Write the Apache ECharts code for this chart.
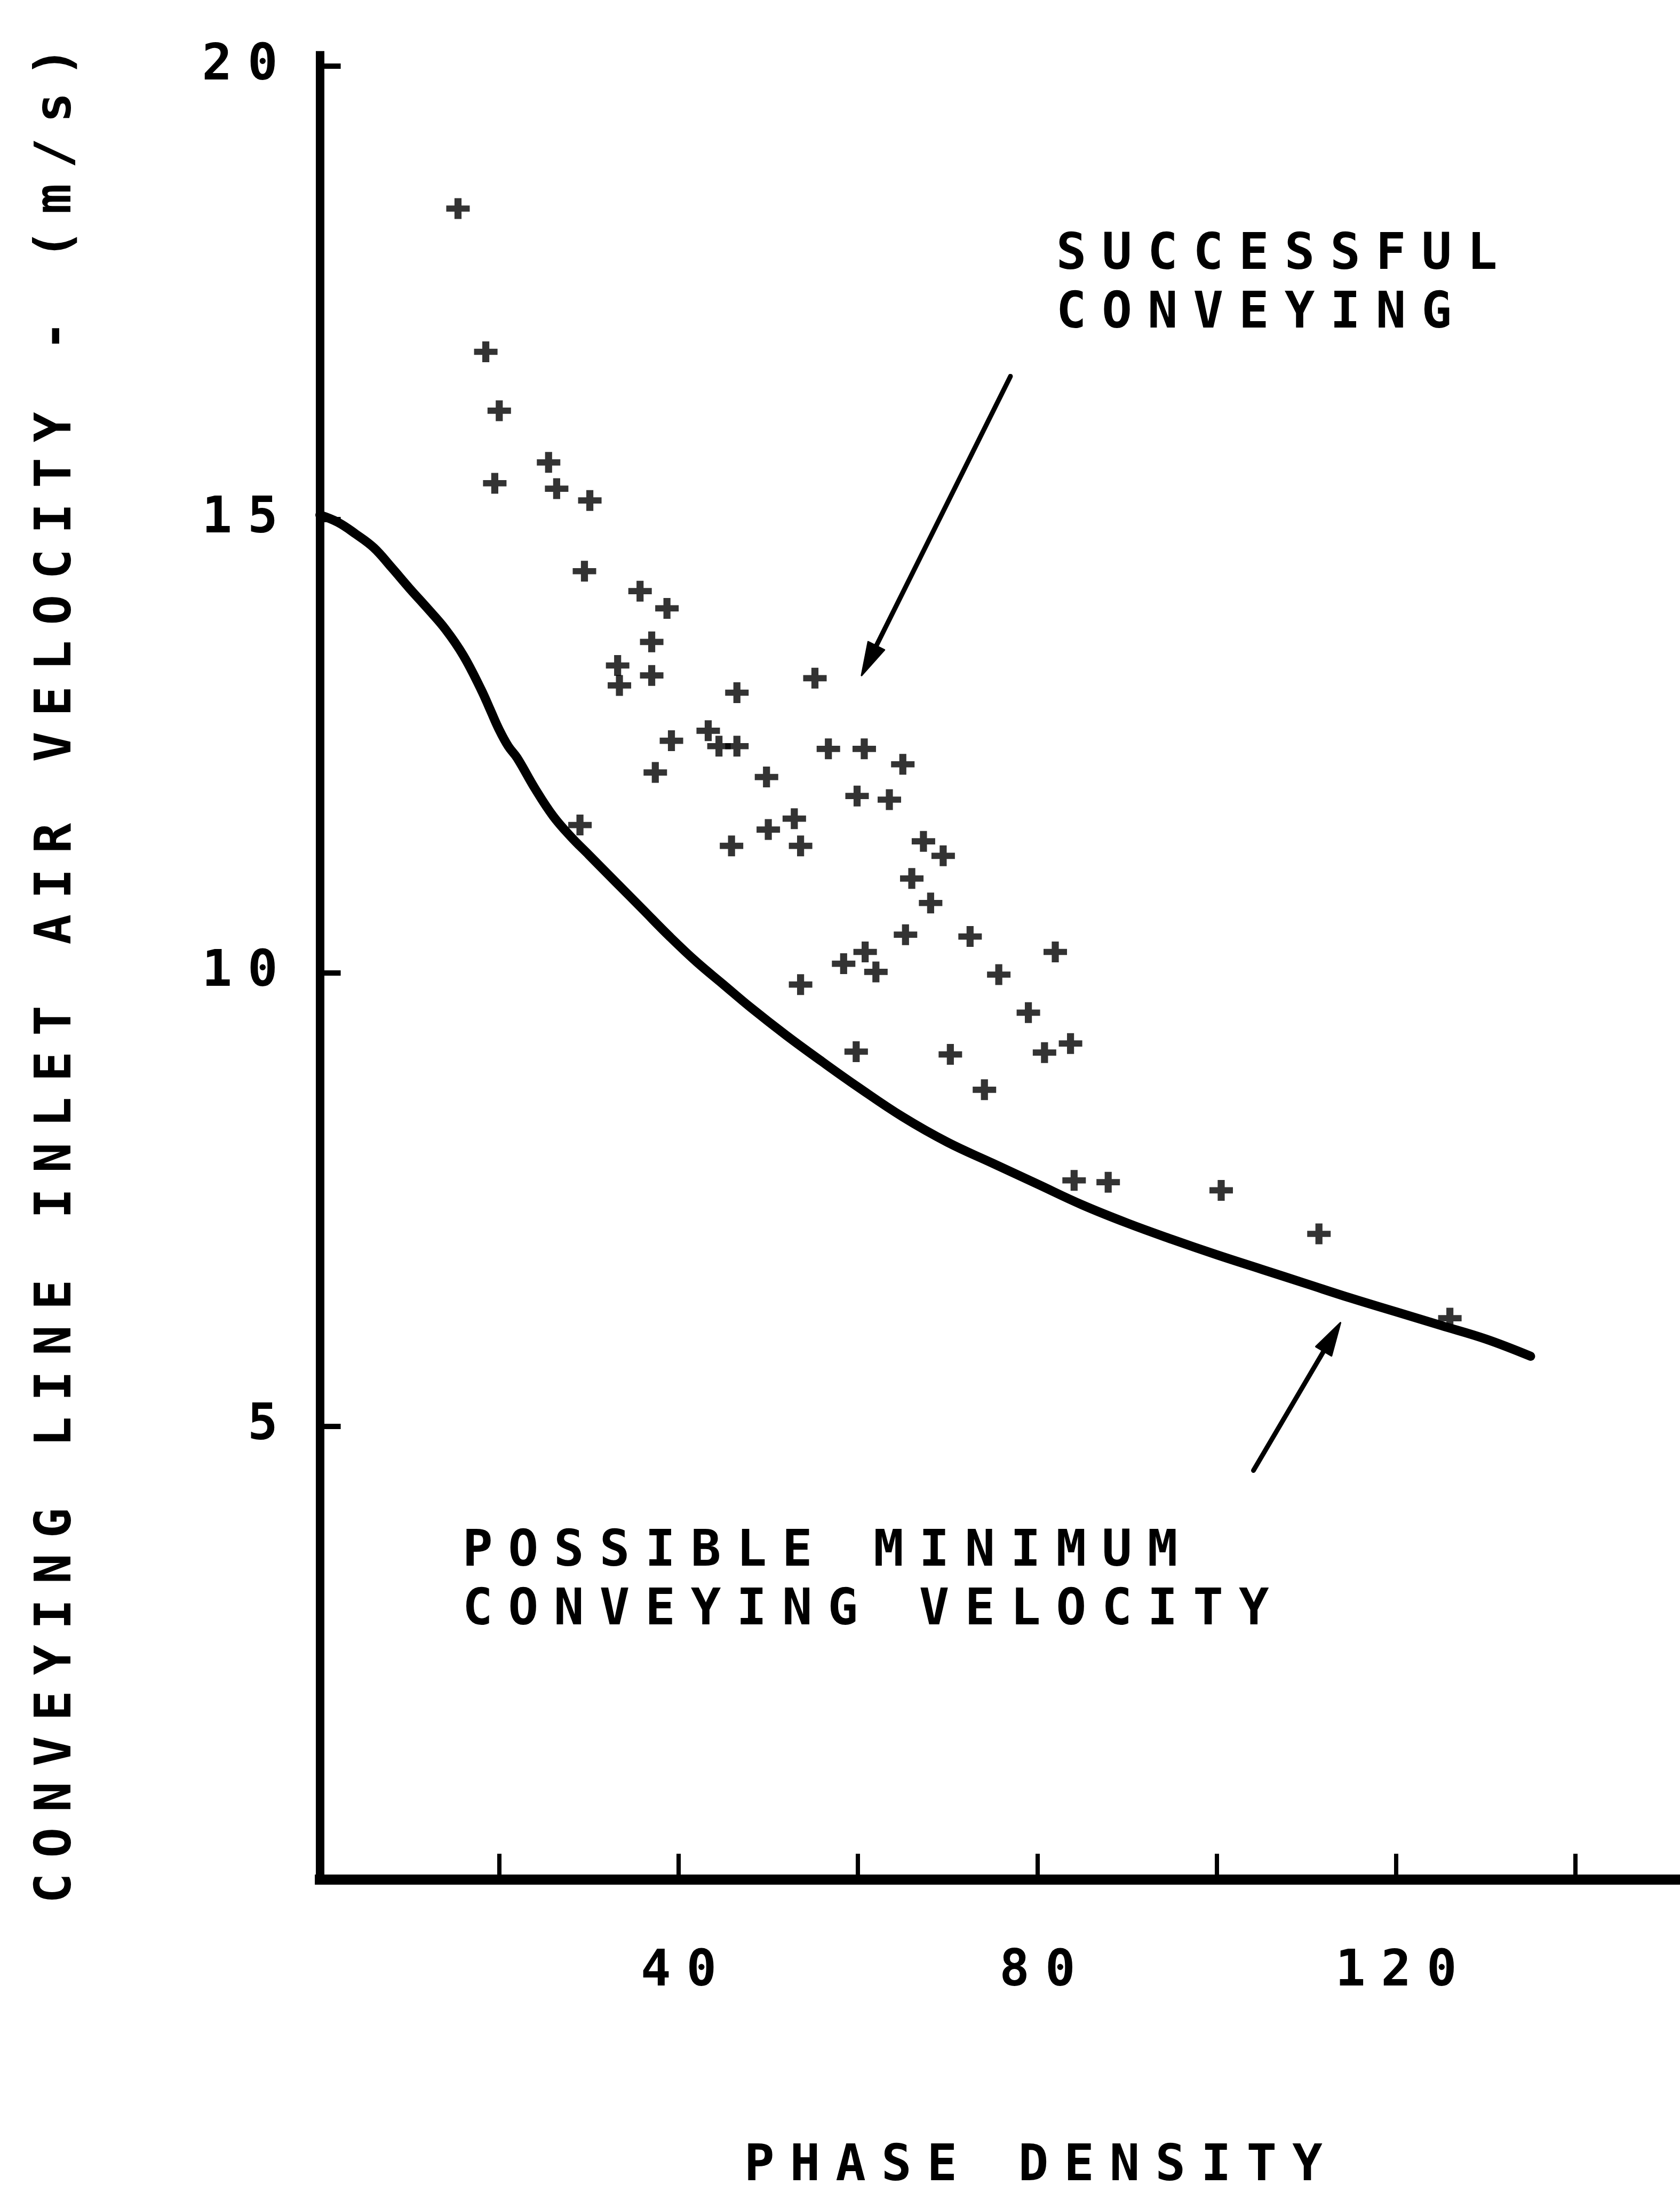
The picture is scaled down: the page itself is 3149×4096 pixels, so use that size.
<!DOCTYPE html>
<html>
<head>
<meta charset="utf-8">
<title>Minimum conveying velocity vs phase density</title>
<style>
  html, body { margin: 0; padding: 0; background: #ffffff; }
  #chart { width: 3149px; height: 4096px; }
</style>
<script>
  // Plotter-style lettering: every label on this figure sits on one wide, even character pitch.
  (function () {
    var TRACKING = '29px';
    var proto = CanvasRenderingContext2D.prototype;
    var desc = Object.getOwnPropertyDescriptor(proto, 'font');
    if (desc && desc.set && ('letterSpacing' in proto)) {
      Object.defineProperty(proto, 'font', {
        configurable: true,
        get: function () { return desc.get.call(this); },
        set: function (v) { desc.set.call(this, v); this.letterSpacing = TRACKING; }
      });
    }
  })();
</script>
<script src="https://cdn.jsdelivr.net/npm/echarts@6/dist/echarts.min.js"></script>
</head>
<body>
<div id="chart"></div>
<script>
  // Boundary curve: possible minimum conveying velocity (m/s) against phase density
  const curveDensity = [0, 2, 4, 6, 8, 10, 12, 14, 16, 18, 19, 20, 21, 22, 24, 26, 28, 30, 33, 36,
    39, 42, 45, 48, 52, 56, 60, 65, 70, 75, 80, 85, 90, 95, 100, 105, 110, 115, 120, 125, 130, 135];
  const curveVelocity = [15.05, 14.97, 14.84, 14.69, 14.47, 14.24, 14.02, 13.79, 13.5, 13.12,
    12.9, 12.68, 12.5, 12.37, 12.03, 11.73, 11.5, 11.3, 11.0, 10.7,
    10.4, 10.12, 9.87, 9.62, 9.31, 9.02, 8.74, 8.41, 8.13, 7.9,
    7.67, 7.44, 7.24, 7.06, 6.89, 6.73, 6.57, 6.41, 6.26, 6.11, 5.96, 5.77];

  // Test runs with successful conveying
  const testDensity = [15.4, 18.5, 20.0, 19.5, 25.5, 26.4, 30.1, 29.5, 35.7, 38.7,
    37.0, 33.2, 33.4, 37.0, 46.5, 55.2, 39.2, 43.3, 44.5, 46.5,
    56.7, 60.7, 65.0, 37.4, 49.8, 59.9, 63.5, 52.9, 50.0, 29.0,
    53.6, 45.9, 67.3, 69.5, 66.0, 68.1, 65.3, 72.5, 82.0, 60.8,
    58.4, 62.0, 53.6, 75.7, 79.0, 59.8, 70.3, 80.8, 83.7, 74.1,
    84.1, 87.9, 100.5, 111.4, 126.0];
  const testVelocity = [18.43, 16.85, 16.2, 15.4, 15.63, 15.34, 15.21, 14.43, 14.21, 14.02,
    13.65, 13.39, 13.17, 13.28, 13.09, 13.25, 12.56, 12.67, 12.5, 12.5,
    12.47, 12.47, 12.3, 12.21, 12.16, 11.95, 11.91, 11.7, 11.58, 11.63,
    11.4, 11.4, 11.45, 11.29, 11.04, 10.77, 10.42, 10.4, 10.23, 10.23,
    10.1, 10.01, 9.87, 9.98, 9.56, 9.13, 9.1, 9.12, 9.22, 8.71,
    7.71, 7.69, 7.6, 7.12, 6.19];

  // Axis ticks and labels
  const densityTicks = [20, 40, 60, 80, 100, 120, 140];
  const densityLabels = [40, 80, 120];
  const velocityTicks = [5, 10, 15, 20];
  const velocityLabels = [5, 10, 15, 20];

  // Annotation arrows: tail and head, in (phase density, velocity)
  const arrowTail = [[77.0, 16.58], [104.1, 4.51]];
  const arrowHead = [[60.4, 13.28], [113.8, 6.14]];

  // Annotation captions
  const noteTexts = ['SUCCESSFUL\nCONVEYING', 'POSSIBLE MINIMUM\nCONVEYING VELOCITY'];
  const noteAnchors = [[82.1, 18.23], [15.9, 3.93]];

  const FONT = {
    fontFamily: '"DejaVu Sans Mono", "Liberation Mono", monospace',
    fontWeight: 'bold',
    fontSize: 94,
    color: '#000000'
  };

  // Filled plus sign used as the point marker
  const PLUS = 'path://M7,0 H13 V7 H20 V13 H13 V20 H7 V13 H0 V7 H7 Z';

  const chart = echarts.init(document.getElementById('chart'), null, { renderer: 'canvas' });

  chart.setOption({
    backgroundColor: '#ffffff',
    animation: false,
    grid: {
      left: 599.6, right: 2.7, top: 103.8, bottom: 573,
      containLabel: false,
      outerBoundsMode: 'none'
    },
    xAxis: {
      type: 'value',
      min: 0,
      max: 151.5,
      axisLine: { show: true, onZero: false, lineStyle: { color: '#000', width: 19, cap: 'square' } },
      axisTick: {
        show: true, inside: true, length: 48,
        customValues: densityTicks,
        lineStyle: { color: '#000', width: 8 }
      },
      axisLabel: Object.assign({
        show: true, margin: 113, customValues: densityLabels, padding: [0, 0, 0, 29]
      }, FONT),
      splitLine: { show: false },
      name: 'PHASE DENSITY',
      nameLocation: 'middle',
      nameGap: 478,
      nameMoveOverlap: false,
      nameTextStyle: Object.assign({ padding: [0, 0, 0, 157] }, FONT)
    },
    yAxis: {
      type: 'value',
      min: 0,
      max: 20.12,
      axisLine: { show: true, onZero: false, lineStyle: { color: '#000', width: 16, cap: 'square' } },
      axisTick: {
        show: true, inside: true, length: 39,
        customValues: velocityTicks,
        lineStyle: { color: '#000', width: 10 }
      },
      axisLabel: Object.assign({ show: true, margin: 50, customValues: velocityLabels }, FONT),
      splitLine: { show: false },
      name: 'CONVEYING LINE INLET AIR VELOCITY - (m/s)',
      nameLocation: 'middle',
      nameRotate: 90,
      nameGap: 431,
      nameMoveOverlap: false,
      nameTextStyle: FONT
    },
    series: [
      {
        name: 'Possible minimum conveying velocity',
        type: 'line',
        data: curveDensity.map((x, i) => [x, curveVelocity[i]]),
        showSymbol: false,
        smooth: 0.4,
        silent: true,
        clip: false,
        lineStyle: { color: '#000', width: 17, cap: 'round', join: 'round' },
        z: 2
      },
      {
        name: 'Successful conveying',
        type: 'scatter',
        data: testDensity.map((x, i) => [x, testVelocity[i]]),
        symbol: PLUS,
        symbolSize: [44, 39],
        silent: true,
        itemStyle: { color: '#000' },
        z: 3
      },
      {
        name: 'Arrows',
        type: 'custom',
        coordinateSystem: 'cartesian2d',
        silent: true,
        clip: false,
        encode: { x: [0, 2], y: [1, 3] },
        data: arrowTail.map((t, i) => [t[0], t[1], arrowHead[i][0], arrowHead[i][1]]),
        renderItem: function (params, api) {
          const a = api.coord([api.value(0), api.value(1)]);
          const b = api.coord([api.value(2), api.value(3)]);
          const dx = b[0] - a[0], dy = b[1] - a[1];
          const len = Math.sqrt(dx * dx + dy * dy);
          const ux = dx / len, uy = dy / len;
          const nx = -uy, ny = ux;
          const headLen = 62, headHalf = 17;
          const bx = b[0] - ux * headLen, by = b[1] - uy * headLen;
          return {
            type: 'group',
            children: [
              {
                type: 'line',
                shape: { x1: a[0], y1: a[1], x2: bx + ux * 6, y2: by + uy * 6 },
                style: { stroke: '#000', lineWidth: 9, lineCap: 'round' }
              },
              {
                type: 'polygon',
                shape: { points: [[b[0], b[1]], [bx + nx * headHalf, by + ny * headHalf], [bx - nx * headHalf, by - ny * headHalf]] },
                style: { fill: '#000', stroke: '#000', lineWidth: 3, lineJoin: 'round' }
              }
            ]
          };
        },
        z: 4
      }
    ]
  });

  // Captions anchored in data space, top-left corner of each block
  chart.setOption({
    graphic: noteTexts.map(function (txt, i) {
      const p = chart.convertToPixel({ gridIndex: 0 }, noteAnchors[i]);
      return {
        type: 'text',
        x: p[0],
        y: p[1],
        silent: true,
        style: {
          text: txt,
          fill: '#000',
          font: 'bold 94px "DejaVu Sans Mono", "Liberation Mono", monospace',
          lineHeight: 110,
          align: 'left',
          verticalAlign: 'top'
        }
      };
    })
  });
</script>
</body>
</html>
